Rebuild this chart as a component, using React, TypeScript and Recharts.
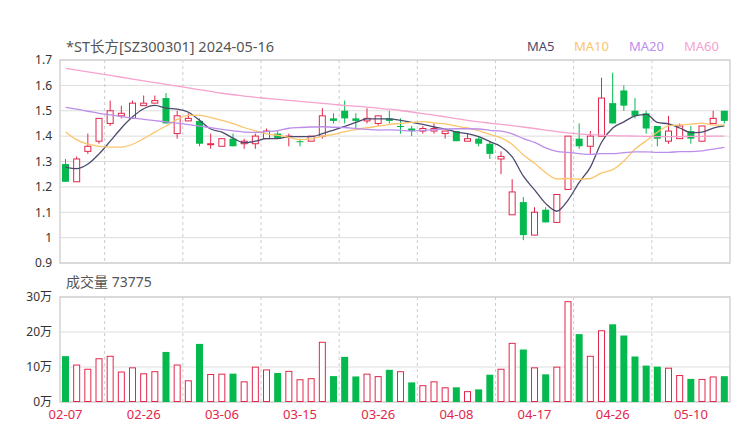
import React from 'react'
import { ComposedChart, Bar, Line, XAxis, YAxis, CartesianGrid, ReferenceArea } from 'recharts'

const dates = [
  '02-07', '02-08', '02-19', '02-20', '02-21', '02-22', '02-23',
  '02-26', '02-27', '02-28', '02-29', '03-01', '03-04', '03-05',
  '03-06', '03-07', '03-08', '03-11', '03-12', '03-13', '03-14',
  '03-15', '03-18', '03-19', '03-20', '03-21', '03-22', '03-25',
  '03-26', '03-27', '03-28', '03-29', '04-01', '04-02', '04-03',
  '04-08', '04-09', '04-10', '04-11', '04-12', '04-15', '04-16',
  '04-17', '04-18', '04-19', '04-22', '04-23', '04-24', '04-25',
  '04-26', '04-29', '04-30', '05-06', '05-07', '05-08', '05-09',
  '05-10', '05-13', '05-14', '05-15',
]

const opens = [
  1.29, 1.22, 1.34, 1.38, 1.45, 1.48, 1.47, 1.52, 1.53, 1.55,
  1.41, 1.46, 1.46, 1.37, 1.36, 1.39, 1.37, 1.37, 1.39, 1.41,
  1.40, 1.38, 1.38, 1.40, 1.47, 1.50, 1.47, 1.46, 1.45, 1.47,
  1.44, 1.43, 1.42, 1.42, 1.41, 1.42, 1.38, 1.39, 1.37, 1.31,
  1.09, 1.14, 1.01, 1.11, 1.06, 1.19, 1.39, 1.36, 1.40, 1.53,
  1.58, 1.50, 1.49, 1.44, 1.38, 1.39, 1.42, 1.38, 1.45, 1.50,
]
const closes = [
  1.22, 1.31, 1.36, 1.47, 1.50, 1.49, 1.53, 1.53, 1.54, 1.45,
  1.48, 1.47, 1.37, 1.37, 1.39, 1.36, 1.38, 1.40, 1.42, 1.39,
  1.40, 1.38, 1.40, 1.48, 1.46, 1.47, 1.46, 1.47, 1.48, 1.46,
  1.44, 1.42, 1.43, 1.43, 1.42, 1.38, 1.39, 1.37, 1.33, 1.32,
  1.18, 1.01, 1.10, 1.06, 1.17, 1.40, 1.36, 1.40, 1.55, 1.45,
  1.52, 1.48, 1.43, 1.39, 1.42, 1.44, 1.39, 1.44, 1.47, 1.46,
]
const highs = [
  1.31, 1.32, 1.41, 1.47, 1.54, 1.52, 1.54, 1.56, 1.56, 1.57,
  1.50, 1.49, 1.47, 1.41, 1.39, 1.41, 1.39, 1.41, 1.43, 1.42,
  1.41, 1.39, 1.40, 1.51, 1.49, 1.54, 1.49, 1.51, 1.48, 1.50,
  1.47, 1.44, 1.44, 1.45, 1.42, 1.42, 1.41, 1.40, 1.38, 1.34,
  1.23, 1.16, 1.12, 1.12, 1.17, 1.40, 1.45, 1.42, 1.63, 1.65,
  1.60, 1.55, 1.50, 1.44, 1.48, 1.45, 1.44, 1.44, 1.50, 1.50,
]
const lows = [
  1.22, 1.22, 1.33, 1.37, 1.44, 1.47, 1.47, 1.52, 1.53, 1.45,
  1.39, 1.46, 1.36, 1.35, 1.36, 1.36, 1.35, 1.35, 1.39, 1.39,
  1.36, 1.36, 1.38, 1.39, 1.45, 1.45, 1.43, 1.45, 1.44, 1.45,
  1.41, 1.40, 1.41, 1.41, 1.39, 1.38, 1.38, 1.36, 1.31, 1.25,
  1.09, 0.99, 1.01, 1.06, 1.06, 1.19, 1.35, 1.33, 1.40, 1.45,
  1.50, 1.47, 1.41, 1.36, 1.37, 1.39, 1.37, 1.38, 1.45, 1.45,
]
const volumes = [
  131000, 107000, 95000, 125000, 132000, 87000, 99000, 82000, 88000, 143000,
  107000, 62000, 166000, 80000, 81000, 81000, 59000, 101000, 93000, 83000,
  89000, 65000, 68000, 172000, 74000, 129000, 73000, 81000, 74000, 92000,
  88000, 56000, 48000, 59000, 42000, 42000, 31000, 36000, 78000, 95000,
  169000, 150000, 99000, 79000, 101000, 288000, 194000, 132000, 205000, 222000,
  190000, 130000, 104000, 101000, 98000, 77000, 66000, 66000, 73000, 73775,
]

const ma5 = [
  1.278, 1.272, 1.290, 1.330, 1.380, 1.432, 1.476, 1.508, 1.521, 1.510,
  1.506, 1.494, 1.462, 1.428, 1.416, 1.392, 1.374, 1.380, 1.390, 1.390,
  1.398, 1.398, 1.398, 1.410, 1.424, 1.438, 1.454, 1.468, 1.468, 1.468,
  1.462, 1.454, 1.446, 1.436, 1.428, 1.416, 1.410, 1.398, 1.378, 1.358,
  1.318, 1.242, 1.188, 1.134, 1.104, 1.148, 1.218, 1.278, 1.376, 1.432,
  1.456, 1.480, 1.486, 1.454, 1.448, 1.432, 1.414, 1.416, 1.432, 1.440,
]
const ma10 = [
  1.416, 1.385, 1.368, 1.360, 1.357, 1.357, 1.368, 1.390, 1.416, 1.440,
  1.466, 1.482, 1.483, 1.473, 1.462, 1.449, 1.434, 1.421, 1.409, 1.403,
  1.395, 1.386, 1.389, 1.400, 1.407, 1.418, 1.426, 1.433, 1.439, 1.446,
  1.450, 1.454, 1.457, 1.452, 1.448, 1.439, 1.432, 1.422, 1.407, 1.393,
  1.367, 1.326, 1.293, 1.256, 1.231, 1.233, 1.230, 1.233, 1.255, 1.268,
  1.302, 1.349, 1.382, 1.415, 1.440, 1.444, 1.447, 1.451, 1.443, 1.444,
]
const ma20 = [
  1.513, 1.506, 1.498, 1.490, 1.484, 1.477, 1.471, 1.466, 1.461, 1.456,
  1.451, 1.445, 1.439, 1.433, 1.427, 1.421, 1.416, 1.415, 1.418, 1.422,
  1.431, 1.434, 1.436, 1.437, 1.435, 1.434, 1.430, 1.427, 1.424, 1.425,
  1.423, 1.420, 1.423, 1.426, 1.428, 1.429, 1.429, 1.428, 1.423, 1.420,
  1.409, 1.390, 1.375, 1.354, 1.340, 1.336, 1.331, 1.328, 1.331, 1.331,
  1.335, 1.338, 1.338, 1.336, 1.336, 1.339, 1.339, 1.342, 1.349, 1.356,
]
const ma60 = [
  1.667, 1.660, 1.653, 1.646, 1.639, 1.632, 1.625, 1.618, 1.611, 1.604,
  1.597, 1.590, 1.583, 1.576, 1.569, 1.563, 1.558, 1.553, 1.549, 1.545,
  1.541, 1.537, 1.533, 1.529, 1.525, 1.521, 1.518, 1.514, 1.510, 1.506,
  1.501, 1.495, 1.489, 1.483, 1.476, 1.469, 1.462, 1.456, 1.451, 1.446,
  1.441, 1.436, 1.430, 1.424, 1.418, 1.413, 1.409, 1.406, 1.404, 1.402,
  1.401, 1.400, 1.399, 1.398, 1.398, 1.398, 1.399, 1.399, 1.400, 1.400,
]

const priceTicks = [0.9, 1, 1.1, 1.2, 1.3, 1.4, 1.5, 1.6, 1.7]
const volumeTicks = [0, 100000, 200000, 300000]
const dateTicks = ['02-07', '02-26', '03-06', '03-15', '03-26', '04-08', '04-17', '04-26', '05-10']
// vertical dashed lines sit on band edges, half a week after each label
const gridEdges = [4, 11, 18, 25, 32, 39, 46, 53]

const RED = '#e3264b'
const GREEN = '#05b94f'
const FONT = '"Noto Sans", "Noto Sans CJK SC", sans-serif'

const rows = dates.map((date, i) => {
  const open = opens[i]
  const close = closes[i]
  const prev = i > 0 ? closes[i - 1] : open
  const candleUp = close > open || (close === open && close >= prev)
  return {
    date,
    open,
    close,
    high: highs[i],
    low: lows[i],
    volume: volumes[i],
    candleUp,
    volumeUp: close >= open,
    ma5: ma5[i],
    ma10: ma10[i],
    ma20: ma20[i],
    ma60: ma60[i],
  }
})

const Candle = (props: any) => {
  const { x, y, width, height, payload } = props
  const { open, close, high, low, candleUp } = payload
  const top = Math.min(y, y + height)
  const h = Math.abs(height)
  const span = high - low
  const toY = (v: number) => (span > 0 ? top + ((high - v) / span) * h : top)
  const cx = x + width / 2
  const bodyTop = toY(Math.max(open, close))
  const bodyBot = toY(Math.min(open, close))
  const color = candleUp ? RED : GREEN
  const bodyH = Math.max(bodyBot - bodyTop, 1)
  return (
    <g>
      <line x1={cx} x2={cx} y1={top} y2={top + h} stroke={color} strokeWidth={1} />
      {candleUp ? (
        <rect x={x + 0.5} y={bodyTop} width={width - 1} height={bodyH} fill="#fff" stroke={color} strokeWidth={1} />
      ) : (
        <rect x={x} y={bodyTop} width={width} height={bodyH} fill={color} />
      )}
    </g>
  )
}

const VolumeBar = (props: any) => {
  const { x, y, width, height, payload } = props
  if (payload.volumeUp) {
    return <rect x={x + 0.5} y={y + 0.5} width={width - 1} height={height - 1} fill="#fff" stroke={RED} strokeWidth={1} />
  }
  return <rect x={x} y={y} width={width} height={height} fill={GREEN} />
}

const verticalLines = ({ offset }: any) =>
  gridEdges.map((k) => offset.left + (offset.width * k) / dates.length)

const legend = [
  { name: 'MA5', color: '#4b4a6d', left: 527 },
  { name: 'MA10', color: '#fbc56c', left: 574 },
  { name: 'MA20', color: '#bc8ee9', left: 629 },
  { name: 'MA60', color: '#f6a2cf', left: 684 },
]

const App: React.FC = () => (
  <div style={{ position: 'fixed', left: 0, top: 0, width: 740, height: 440, background: '#fff', fontFamily: FONT }}>
    <div style={{ position: 'absolute', left: 66, top: 37, fontSize: 14.5, lineHeight: '18px', color: '#555' }}>
      *ST长方[SZ300301] 2024-05-16
    </div>
    {legend.map((l) => (
      <div key={l.name} style={{ position: 'absolute', left: l.left, top: 37, fontSize: 13, lineHeight: '18px', color: l.color }}>
        {l.name}
      </div>
    ))}
    <div style={{ position: 'absolute', left: 66, top: 273, fontSize: 14, lineHeight: '18px', color: '#555' }}>
      成交量 73775
    </div>

    <div style={{ position: 'absolute', left: 0, top: 0 }}>
      <ComposedChart width={740} height={270} data={rows} margin={{ top: 60, right: 10, bottom: 7, left: 0 }}>
        <CartesianGrid stroke="#ddd" horizontal vertical={false} />
        <CartesianGrid stroke="#ccc" strokeDasharray="3 3" horizontal={false} verticalCoordinatesGenerator={verticalLines} />
        <ReferenceArea y1={0.9} y2={1.7} fill="none" stroke="#d4d4d4" strokeWidth={1.5} ifOverflow="visible" />
        <XAxis dataKey="date" hide />
        <YAxis
          domain={[0.9, 1.7]}
          ticks={priceTicks}
          width={60}
          axisLine={false}
          tickLine={false}
          tick={{ fill: '#333', fontSize: 12 }}
          interval={0}
        />
        <Bar dataKey={(d: any) => [d.low, d.high]} barSize={7} shape={<Candle />} isAnimationActive={false} />
        <Line dataKey="ma5" type="monotone" stroke="#4b4a6d" strokeWidth={1.3} dot={false} activeDot={false} isAnimationActive={false} />
        <Line dataKey="ma10" type="monotone" stroke="#fbc56c" strokeWidth={1.3} dot={false} activeDot={false} isAnimationActive={false} />
        <Line dataKey="ma20" type="monotone" stroke="#bc8ee9" strokeWidth={1.3} dot={false} activeDot={false} isAnimationActive={false} />
        <Line dataKey="ma60" type="monotone" stroke="#f6a2cf" strokeWidth={1.3} dot={false} activeDot={false} isAnimationActive={false} />
      </ComposedChart>
    </div>

    <div style={{ position: 'absolute', left: 0, top: 270 }}>
      <ComposedChart width={740} height={170} data={rows} margin={{ top: 27, right: 10, bottom: 0, left: 0 }}>
        <CartesianGrid stroke="#ddd" horizontal vertical={false} />
        <CartesianGrid stroke="#ccc" strokeDasharray="3 3" horizontal={false} verticalCoordinatesGenerator={verticalLines} />
        <ReferenceArea y1={0} y2={300000} fill="none" stroke="#d4d4d4" strokeWidth={1.5} ifOverflow="visible" />
        <XAxis
          dataKey="date"
          ticks={dateTicks}
          interval={0}
          height={38}
          axisLine={false}
          tickLine={false}
          tick={{ fill: RED, fontSize: 13 }}
        />
        <YAxis
          domain={[0, 300000]}
          ticks={volumeTicks}
          width={60}
          axisLine={false}
          tickLine={false}
          tick={{ fill: '#333', fontSize: 12 }}
          tickFormatter={(v: number) => `${v / 10000}万`}
          interval={0}
        />
        <Bar dataKey="volume" barSize={7} shape={<VolumeBar />} isAnimationActive={false} />
      </ComposedChart>
    </div>
  </div>
)

export default App
